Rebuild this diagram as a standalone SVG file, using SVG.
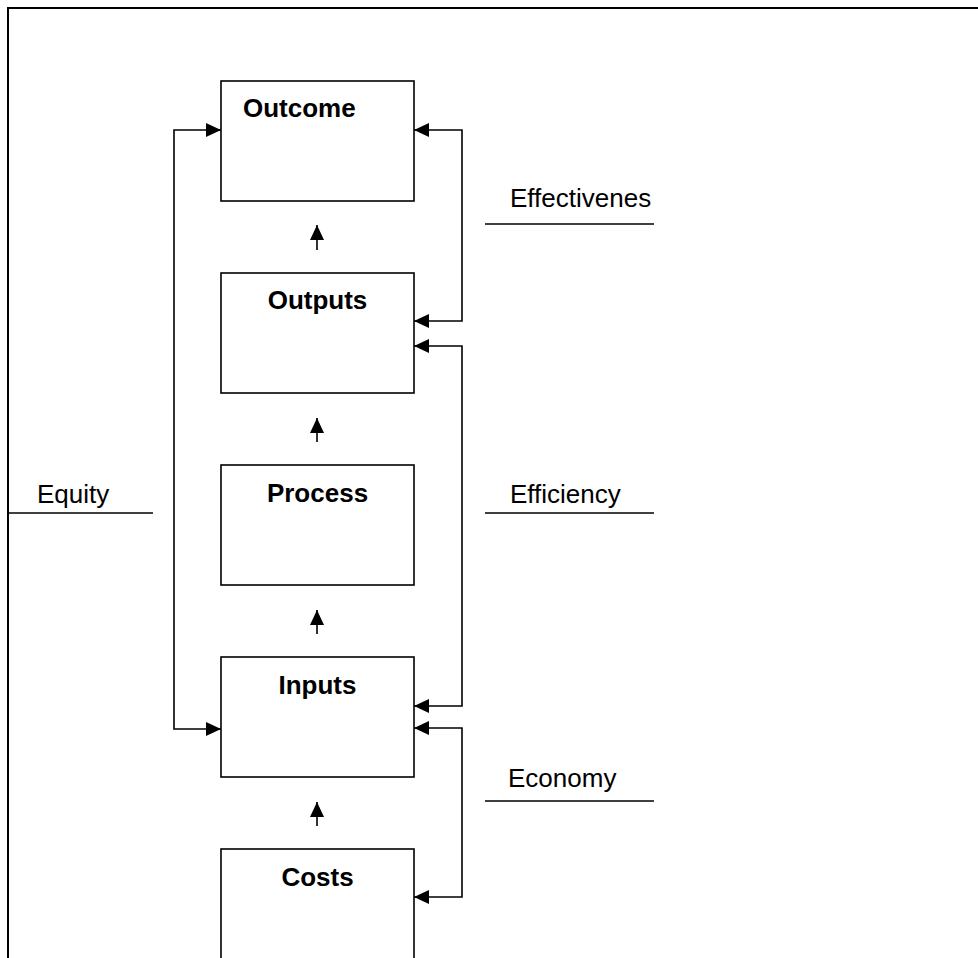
<svg xmlns="http://www.w3.org/2000/svg" width="978" height="958" viewBox="0 0 978 958">
<defs>
<marker id="ah" viewBox="0 0 15 14" refX="15" refY="7" markerWidth="15" markerHeight="14" markerUnits="userSpaceOnUse" orient="auto-start-reverse">
<path d="M0,0 L15,7 L0,14 Z" fill="#000"/>
</marker>
<style>
.box{fill:#fff;stroke:#000;stroke-width:1.6}
.t{font-family:"Liberation Sans",Arial,sans-serif;font-size:26px;font-weight:bold;fill:#000}
.l{font-family:"Liberation Sans",Arial,sans-serif;font-size:26px;fill:#000}
.c{fill:none;stroke:#000;stroke-width:1.6}
</style>
</defs>
<rect width="978" height="958" fill="#fff"/>
<path d="M8,958 V8 H978" fill="none" stroke="#000" stroke-width="2"/>
<g id="outcome"><rect class="box" x="221" y="81" width="193" height="120"/><text class="t" x="243" y="117">Outcome</text></g>
<g id="outputs"><rect class="box" x="221" y="273" width="193" height="120"/><text class="t" x="317.5" y="309" text-anchor="middle">Outputs</text></g>
<g id="process"><rect class="box" x="221" y="465" width="193" height="120"/><text class="t" x="317.5" y="502" text-anchor="middle">Process</text></g>
<g id="inputs"><rect class="box" x="221" y="657" width="193" height="120"/><text class="t" x="317.5" y="694" text-anchor="middle">Inputs</text></g>
<g id="costs"><rect class="box" x="221" y="849" width="193" height="130"/><text class="t" x="317.5" y="886" text-anchor="middle">Costs</text></g>
<g id="labels">
<text class="l" x="37" y="503">Equity</text>
<line class="c" x1="8" y1="513" x2="153" y2="513"/>
<text class="l" x="510" y="207">Effectivenes</text>
<line class="c" x1="485" y1="224" x2="654" y2="224"/>
<text class="l" x="510" y="503">Efficiency</text>
<line class="c" x1="485" y1="513" x2="654" y2="513"/>
<text class="l" x="508" y="787">Economy</text>
<line class="c" x1="485" y1="801" x2="654" y2="801"/>
</g>
<g id="connectors">
<line class="c" x1="317" y1="250" x2="317" y2="225" marker-end="url(#ah)"/>
<line class="c" x1="317" y1="442" x2="317" y2="418" marker-end="url(#ah)"/>
<line class="c" x1="317" y1="634" x2="317" y2="610" marker-end="url(#ah)"/>
<line class="c" x1="317" y1="826" x2="317" y2="802" marker-end="url(#ah)"/>
<path class="c" d="M221,130 H174 V729 H221" marker-start="url(#ah)" marker-end="url(#ah)"/>
<path class="c" d="M414,130 H462 V321 H414" marker-start="url(#ah)" marker-end="url(#ah)"/>
<path class="c" d="M414,346 H462 V706 H414" marker-start="url(#ah)" marker-end="url(#ah)"/>
<path class="c" d="M414,728 H462 V897 H414" marker-start="url(#ah)" marker-end="url(#ah)"/>
</g>
</svg>
